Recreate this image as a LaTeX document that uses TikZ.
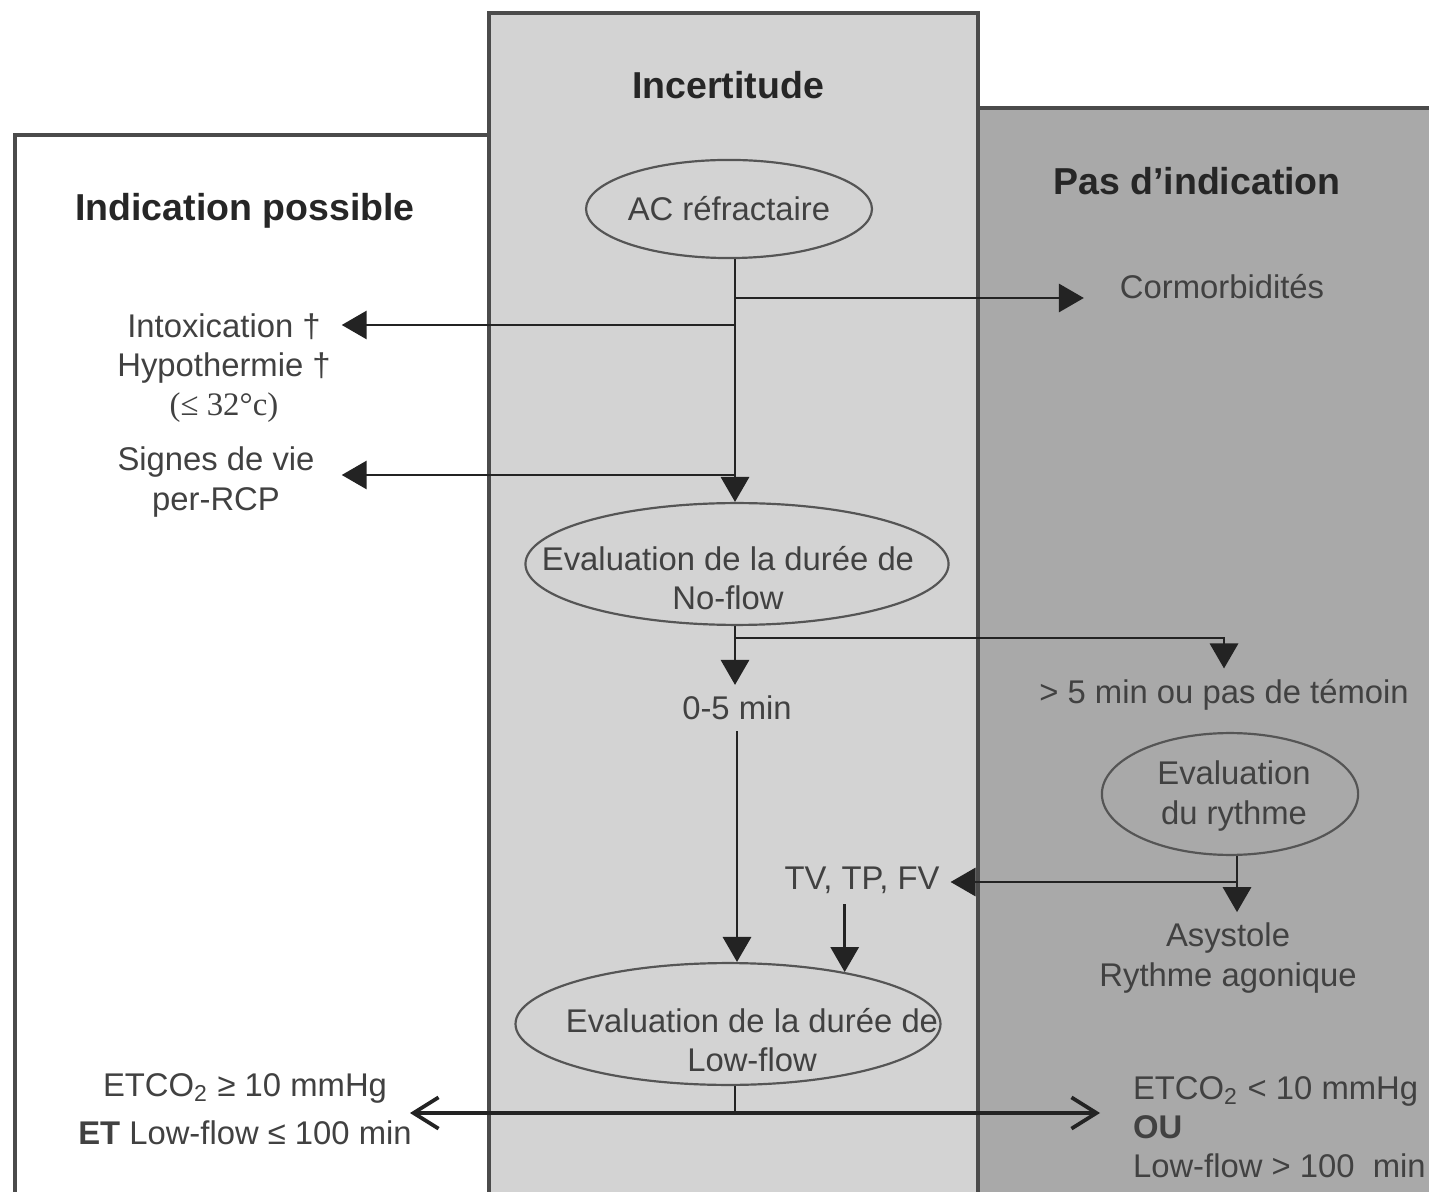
\documentclass[tikz,border=0pt]{standalone}
\usepackage{fontspec}
\setmainfont{Liberation Sans}
\newfontfamily\timesfont{Liberation Serif}
\usetikzlibrary{shapes.geometric,arrows.meta}
\definecolor{midgray}{RGB}{211,211,211}
\definecolor{rightgray}{RGB}{169,169,169}
\definecolor{panelline}{RGB}{75,75,75}
\definecolor{ovalline}{RGB}{85,85,85}
\definecolor{arrline}{RGB}{35,35,35}
\definecolor{txtgray}{RGB}{65,65,65}

\begin{document}
\begin{tikzpicture}[x=0.32pt,y=-0.32pt]
        \tikzstyle{every node}=[font=\fontsize{10.5}{12.5}\selectfont, text=txtgray, align=center]
        \tikzstyle{panel}=[draw=panelline, line width=1pt]
        \tikzstyle{paneltitle}=[font=\fontsize{12}{14}\selectfont\bfseries, text=black!85]
        \tikzstyle{oval}=[draw=ovalline, line width=0.7pt, ellipse, inner sep=0pt]
        \tikzstyle{arr}=[draw=arrline, line width=0.9pt, -{Triangle[length=8pt,width=9pt]}]
        \tikzstyle{openarr}=[draw=arrline, line width=1.2pt, -{Straight Barb[length=8pt,width=10pt]}]
        \clip (0,0) rectangle (1429,1192);
        \fill[white] (0,0) rectangle (1429,1192);
        % panels
        \filldraw[panel, fill=white] (15,1220) rectangle (489,135);
        \filldraw[panel, fill=rightgray] (978,1220) rectangle (1445,108);
        \filldraw[panel, fill=midgray] (489,1220) rectangle (978,13);
        \node[paneltitle] (tleft) at (245,211) {Indication possible};
        \node[paneltitle] (tmid) at (728,85) {Incertitude};
        \node[paneltitle] (tright) at (1197,181) {Pas d’indication};
        % ovals
        \node[oval, minimum width=91.5pt, minimum height=31.4pt] (ac) at (729,209) {};
        \node (acT) at (ac) {AC réfractaire};
        \node[oval, minimum width=135.4pt, minimum height=39pt] (noflow) at (737,564) {};
        \node (noflowT) at (728,578) {Evaluation de la durée de\\No-flow};
        \node[oval, minimum width=136pt, minimum height=39pt] (lowflow) at (728,1024) {};
        \node (lowflowT) at (752,1040) {Evaluation de la durée de\\Low-flow};
        \node[oval, minimum width=82pt, minimum height=39pt] (rythme) at (1230,794) {};
        \node (rythmeT) at (1234,796) {Evaluation\\du rythme};
        % texts
        \node (comorb) at (1222,287) {Cormorbidités};
        \node (intox) at (224,368) {Intoxication †\\Hypothermie †\\{\timesfont(≤ 32°c)}};
        \node (signes) at (216,482) {Signes de vie\\per-RCP};
        \node (zero) at (737,708) {0-5 min};
        \node (plus) at (1224,695) {> 5 min ou pas de témoin};
        \node (tv) at (862,880) {TV, TP, FV};
        \node (asys) at (1228,958) {Asystole\\Rythme agonique};
        \node (etleft) at (245,1109) {ETCO\textsubscript{2} ≥ 10 mmHg\\[3pt]\textbf{ET} Low-flow ≤ 100 min};
        \node[anchor=west, align=left] (etright) at (1122,1127) {ETCO\textsubscript{2} < 10 mmHg\\\textbf{OU}\\Low-flow > 100~~min};
        % junctions
        \coordinate (jcom) at (735,298);
        \coordinate (jint) at (735,325);
        \coordinate (jsig) at (735,475);
        \coordinate (jplus) at (735,638);
        \coordinate (jtv) at (1237,882);
        \coordinate (jbot) at (735,1113);
        \coordinate (leftend) at (410,1113);
        \coordinate (rightend) at (1100,1113);
        % connectors
        \draw[arr] (jcom |- ac.south) -- (jcom |- noflow.north);
        \draw[arr, shorten >=8pt] (jcom) -- (comorb.west |- jcom);
        \draw[arr] (jint) -- (intox.east |- jint);
        \draw[arr] (jsig) -- (intox.east |- jsig);
        \draw[arr] (jplus |- noflow.south) -- (jplus |- zero.north);
        \draw[arr] (jplus) -| (plus.north);
        \draw[arr] (zero.south) -- (zero.south |- lowflow.north);
        \draw[arr] (rythme.south -| jtv) -- (jtv |- asys.north);
        \draw[arr] (jtv) -- (tv.east |- jtv);
        \draw[arr] (tv.south -| lowflow.24) -- (lowflow.24);
        \draw[draw=arrline, line width=0.9pt] (jbot |- lowflow.south) -- (jbot);
        \draw[openarr] (jbot) -- (leftend);
        \draw[openarr] (jbot) -- (rightend);
\end{tikzpicture}
\end{document}
